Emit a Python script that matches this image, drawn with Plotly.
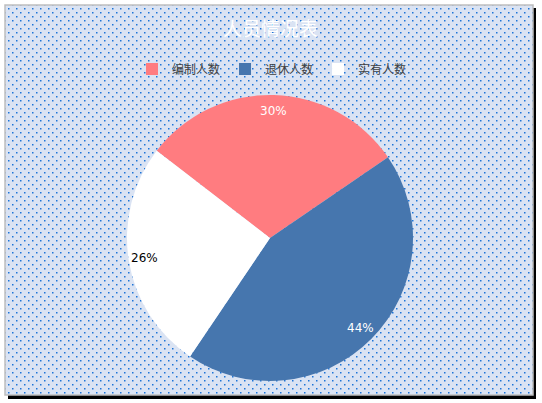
import base64
import numpy as np
import plotly.graph_objects as go

# ---- data ----
categories = ["编制人数", "退休人数", "实有人数"]
values = [30, 44, 26]
colors = ["#FF7C80", "#4676AE", "#FFFFFF"]
label_colors = ["#FFFFFF", "#FFFFFF", "#000000"]
title_text = "人员情况表"

W, H = 542, 403
cx, cy, R = 270, 238, 143
rotation = -52.4

fig = go.Figure()
fig.add_trace(go.Pie(
    labels=categories, values=values, sort=False, direction="clockwise",
    rotation=rotation, marker=dict(colors=colors, line=dict(width=0)),
    textinfo="none", hoverinfo="label+percent",
    domain=dict(x=[(cx - R) / W, (cx + R) / W], y=[1 - (cy + R) / H, 1 - (cy - R) / H]),
    showlegend=True,
))

# percentage labels placed near the outer edge of each slice (computed from values)
vals = np.array(values, dtype=float)
pct = vals / vals.sum()
starts = rotation + 360 * np.concatenate([[0], np.cumsum(pct)[:-1]])
mids = starts + 180 * pct
annotations = []
for p, m, c in zip(pct, mids, label_colors):
    r = 0.89 * R
    x = cx + r * np.sin(np.radians(m))
    y = cy - r * np.cos(np.radians(m))
    annotations.append(dict(x=x / W, y=1 - y / H, xref="paper", yref="paper",
                            xanchor="center", yanchor="middle",
                            text=f"{round(p*100)}%", showarrow=False,
                            font=dict(size=12, color=c, family="DejaVu Sans")))

# chart-area backdrop: shadow + dotted pattern, as an svg image
svg = '''<svg xmlns="http://www.w3.org/2000/svg" width="542" height="403" viewBox="0 0 542 403">
<defs><pattern id="p" x="8" y="8" width="8" height="8" patternUnits="userSpaceOnUse">
<rect x="0" y="0" width="8" height="8" fill="#DAE3F3"/>
<rect x="0" y="0" width="1.5" height="1.5" fill="#1C74D8"/>
<rect x="4" y="4" width="1.5" height="1.5" fill="#1C74D8"/>
</pattern></defs>
<rect x="8" y="8" width="528" height="391" fill="#000000"/>
<rect x="5" y="5" width="528" height="390" fill="url(#p)"/>
</svg>'''
src = "data:image/svg+xml;base64," + base64.b64encode(svg.encode()).decode()

shapes = [
    dict(type="rect", xref="paper", yref="paper", x0=5 / W, x1=533 / W, y0=1 - 395 / H, y1=1 - 5 / H,
         line=dict(color="#BFBFBF", width=1.5), fillcolor="rgba(0,0,0,0)", layer="above"),
]

fig.update_layout(
    width=W, height=H, margin=dict(l=0, r=0, t=0, b=0),
    paper_bgcolor="#FFFFFF", plot_bgcolor="rgba(0,0,0,0)",
    images=[dict(source=src, xref="paper", yref="paper", x=0, y=1,
                 sizex=1, sizey=1, sizing="stretch", layer="below",
                 xanchor="left", yanchor="top")],
    shapes=shapes,
    annotations=annotations + [dict(x=270 / W, y=1 - 28 / H, xref="paper", yref="paper",
                                    xanchor="center", yanchor="middle",
                                    text=title_text, showarrow=False,
                                    font=dict(size=19, color="#FFFFFF", family="Noto Sans CJK SC"))],
    legend=dict(orientation="h", x=272 / W, xanchor="center", y=1 - 69 / H, yanchor="middle",
                font=dict(size=12, color="#404040", family="Noto Sans CJK SC"),
                bgcolor="rgba(0,0,0,0)", itemwidth=30, traceorder="normal"),
    font=dict(family="Noto Sans CJK SC"),
)

fig.write_html("out.html", config={"displayModeBar": False},
               post_script="document.body.style.margin='0';")
